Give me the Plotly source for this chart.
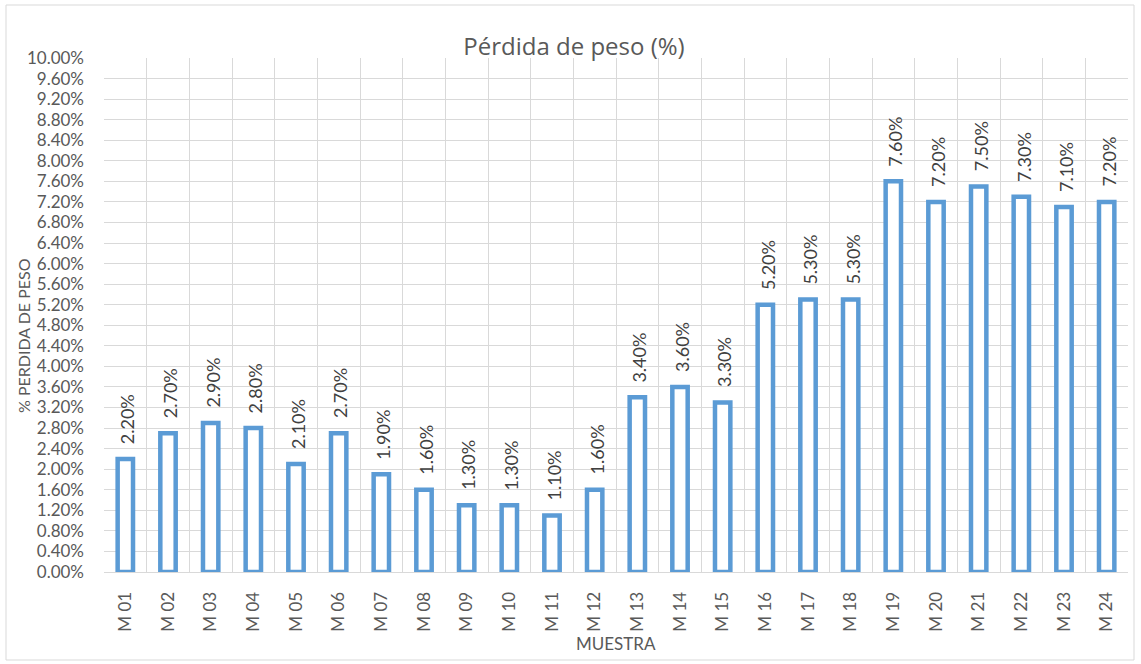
import plotly.graph_objects as go

categories = ["M 01", "M 02", "M 03", "M 04", "M 05", "M 06", "M 07", "M 08",
              "M 09", "M 10", "M 11", "M 12", "M 13", "M 14", "M 15", "M 16",
              "M 17", "M 18", "M 19", "M 20", "M 21", "M 22", "M 23", "M 24"]
perdida = [0.022, 0.027, 0.029, 0.028, 0.021, 0.027, 0.019, 0.016,
           0.013, 0.013, 0.011, 0.016, 0.034, 0.036, 0.033, 0.052,
           0.053, 0.053, 0.076, 0.072, 0.075, 0.073, 0.071, 0.072]
y_ticks = [i * 0.004 for i in range(26)]
y_tick_labels = [f"{v*100:.2f}%" for v in y_ticks]

W, H = 1141, 664
ml, mr, mt, mb = 104, 13, 58, 92
GREY = "#595959"

fig = go.Figure()
fig.add_trace(go.Bar(
    x=categories, y=perdida,
    width=0.36,
    marker=dict(color="white", line=dict(color="#5B9BD5", width=4.5)),
    hovertemplate="%{x}: %{y:.2%}<extra></extra>",
))

for c, v in zip(categories, perdida):
    fig.add_annotation(x=c, y=v, text=f"{v*100:.2f}%", textangle=-90,
                       xanchor="center", yanchor="bottom", yshift=13, xshift=2,
                       showarrow=False,
                       font=dict(family="Lato", size=18, color="#404040"))

pw = W - ml - mr
ph = H - mt - mb
fig.add_shape(type="rect", xref="paper", yref="paper",
              x0=(6 - ml) / pw, x1=(1134 - ml) / pw,
              y0=(H - mb - 660) / ph, y1=(H - mb - 5) / ph,
              line=dict(color="#D9D9D9", width=1), layer="below")

fig.add_annotation(text="% PERDIDA DE PESO", textangle=-90,
                   xref="paper", yref="paper",
                   x=(23 - ml) / pw, y=(H - mb - 336) / ph,
                   xanchor="center", yanchor="middle", showarrow=False,
                   font=dict(family="Lato", size=16, color=GREY))
fig.add_annotation(text="MUESTRA",
                   xref="paper", yref="paper",
                   x=0.5, y=(H - mb - 643) / ph,
                   xanchor="center", yanchor="middle", showarrow=False,
                   font=dict(family="Lato", size=17, color=GREY))

fig.update_layout(
    width=W, height=H,
    margin=dict(l=ml, r=mr, t=mt, b=mb),
    paper_bgcolor="white", plot_bgcolor="white",
    showlegend=False,
    title=dict(text="Pérdida de peso (%)", x=574 / W, xanchor="center",
               y=1 - 47 / H, yanchor="middle",
               font=dict(family="Open Sans", size=24, color=GREY)),
    xaxis=dict(
        type="category", tickson="boundaries", ticks="",
        tickangle=-90, ticklabelstandoff=12,
        tickfont=dict(family="Lato", size=17, color=GREY),
        showgrid=True, gridcolor="#D9D9D9", gridwidth=1,
        showline=True, linecolor="#D9D9D9", linewidth=1,
        automargin=False,
    ),
    yaxis=dict(
        range=[0, 0.1],
        tickvals=y_ticks, ticktext=y_tick_labels,
        tickfont=dict(family="Lato", size=17, color=GREY),
        ticklabelstandoff=19,
        showgrid=True, gridcolor="#D9D9D9", gridwidth=1,
        zeroline=False, ticks="",
        automargin=False,
    ),
)

fig.write_html("out.html", config={"displayModeBar": False},
               post_script="document.body.style.margin='0';")
